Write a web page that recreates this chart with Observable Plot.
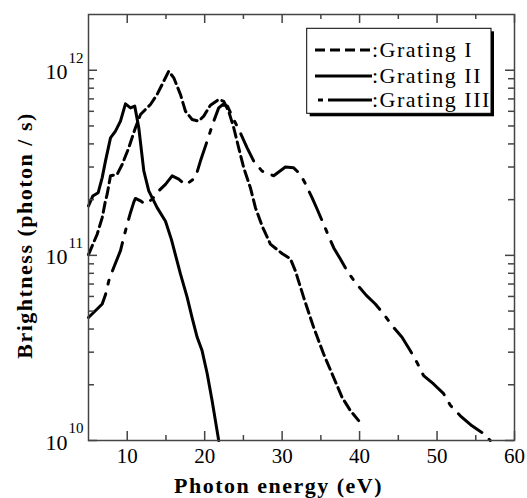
<!DOCTYPE html>
<html><head><meta charset="utf-8">
<script src="https://cdn.jsdelivr.net/npm/d3@7"></script>
<script src="https://cdn.jsdelivr.net/npm/@observablehq/plot@0.6"></script>
<style>body{margin:0;background:#fff} svg{display:block}</style>
</head><body><div id="chart"></div>
<script>
// ---- data ----
const xTicksMajor = [10, 20, 30, 40, 50, 60];
const xTicksMinor = [15, 25, 35, 45, 55];
const yTicksMajor = [1e10, 1e11, 1e12];
const yTickExponents = ["10", "11", "12"];
const yTicksMinor = [2e10,3e10,4e10,5e10,6e10,7e10,8e10,9e10,2e11,3e11,4e11,5e11,6e11,7e11,8e11,9e11];
const seriesNames = ["Grating I", "Grating II", "Grating III"];

const gratingI_x = [5.0,6.12,6.77,7.19,7.41,7.84,8.70,9.35,10.20,11.06,11.71,13.0,13.86,14.72,15.36,16.01,16.87,17.52,18.38,19.23,19.88,20.74,21.81,22.46,23.10,23.75,24.39,25.04,25.90,26.55,27.45,28.48,30.03,31.06,31.71,32.78,34.07,35.36,36.65,37.74,38.81,39.88];
const gratingI_y = [1.01e11,1.30e11,1.60e11,1.97e11,2.14e11,2.69e11,2.74e11,3.10e11,3.81e11,4.89e11,5.77e11,6.53e11,7.40e11,8.73e11,9.89e11,9.1e11,7.4e11,6.0e11,5.42e11,5.31e11,5.65e11,6.47e11,6.95e11,6.79e11,6.0e11,4.89e11,3.81e11,2.97e11,2.32e11,1.81e11,1.43e11,1.15e11,1.02e11,9.6e10,8.25e10,5.93e10,4.08e10,2.93e10,2.19e10,1.71e10,1.45e10,1.28e10];

const gratingII_x = [5.0,5.55,6.25,6.77,7.19,7.84,8.48,9.13,9.77,10.42,10.97,11.49,12.14,12.78,13.86,14.94,15.7,16.87,17.74,18.38,19.03,19.67,20.32,20.96,21.81];
const gratingII_y = [1.85e11,2.09e11,2.18e11,2.63e11,3.23e11,4.31e11,4.69e11,5.31e11,6.58e11,6.26e11,6.40e11,4.89e11,2.86e11,2.23e11,1.81e11,1.53e11,1.22e11,7.94e10,5.93e10,4.6e10,3.61e10,3.05e10,2.30e10,1.64e10,1.0e10];

const gratingIII_x = [5.0,6.12,6.77,7.19,7.62,8.26,9.13,9.55,9.99,10.42,10.85,11.06,11.71,12.35,13.22,14.07,14.94,15.80,16.65,17.52,18.81,19.45,20.10,20.74,21.17,21.81,22.35,22.94,23.75,24.61,25.48,26.33,27.41,28.91,30.42,31.49,32.35,33.0,33.86,34.51,35.36,36.01,36.65,37.52,38.38,39.45,40.87,42.03,43.10,44.39,45.48,46.55,47.41,48.26,49.55,50.85,51.71,53.0,54.51,56.0,56.87];
const gratingIII_y = [4.62e10,5.13e10,5.46e10,6.12e10,7.29e10,8.60e10,1.06e11,1.25e11,1.47e11,1.70e11,1.94e11,2.03e11,1.97e11,1.89e11,2.01e11,2.23e11,2.42e11,2.69e11,2.58e11,2.40e11,2.63e11,3.23e11,3.89e11,4.69e11,5.31e11,6.26e11,6.53e11,6.40e11,5.42e11,4.59e11,3.81e11,3.23e11,2.85e11,2.69e11,3.00e11,2.97e11,2.74e11,2.44e11,2.05e11,1.78e11,1.47e11,1.27e11,1.10e11,9.55e10,8.25e10,7.13e10,6.08e10,5.46e10,4.82e10,4.08e10,3.61e10,3.05e10,2.64e10,2.24e10,2.02e10,1.79e10,1.55e10,1.36e10,1.20e10,1.09e10,1.0e10];

// ---- layout ----
const W = 527, H = 498, mL = 88, mR = 13, mT = 14, mB = 58;
const fw = W - mL - mR, fh = H - mT - mB;
const serif = "'Liberation Serif', 'Times New Roman', serif";
const axisColor = "#444";
const dashI = "10,5", dashIII = "30,10,4,10";
const toRows = (xs, ys) => xs.map((x, i) => ({x, y: ys[i]}));

const plot = Plot.plot({
  width: W, height: H,
  marginLeft: mL, marginRight: mR, marginTop: mT, marginBottom: mB,
  style: {fontFamily: serif, background: "white", color: "black", overflow: "visible"},
  x: {domain: [5, 60], axis: null},
  y: {type: "log", domain: [1e10, 2e12], axis: null},
  marks: [
    Plot.line(toRows(gratingI_x, gratingI_y), {x: "x", y: "y", stroke: "black", strokeWidth: 3, strokeDasharray: dashI}),
    Plot.line(toRows(gratingII_x, gratingII_y), {x: "x", y: "y", stroke: "black", strokeWidth: 3}),
    Plot.line(toRows(gratingIII_x, gratingIII_y), {x: "x", y: "y", stroke: "black", strokeWidth: 3, strokeDasharray: dashIII}),
    Plot.frame({stroke: axisColor, strokeWidth: 1.5}),
    Plot.tickX(xTicksMajor, {x: d => d, insetTop: fh - 9, stroke: axisColor, strokeWidth: 1.5}),
    Plot.tickX(xTicksMajor, {x: d => d, insetBottom: fh - 9, stroke: axisColor, strokeWidth: 1.5}),
    Plot.tickX(xTicksMinor, {x: d => d, insetTop: fh - 5, stroke: axisColor, strokeWidth: 1.5}),
    Plot.tickX(xTicksMinor, {x: d => d, insetBottom: fh - 5, stroke: axisColor, strokeWidth: 1.5}),
    Plot.tickY(yTicksMajor, {y: d => d, insetRight: fw - 9, stroke: axisColor, strokeWidth: 1.5}),
    Plot.tickY(yTicksMajor, {y: d => d, insetLeft: fw - 9, stroke: axisColor, strokeWidth: 1.5}),
    Plot.tickY(yTicksMinor, {y: d => d, insetRight: fw - 6, stroke: axisColor, strokeWidth: 1.5}),
    Plot.tickY(yTicksMinor, {y: d => d, insetLeft: fw - 6, stroke: axisColor, strokeWidth: 1.5}),
    Plot.text(xTicksMajor, {x: d => d, frameAnchor: "bottom", lineAnchor: "middle", dy: 16, text: d => String(d), fontSize: 21, fill: "black"}),
    Plot.text(yTicksMajor, {y: d => d, frameAnchor: "left", lineAnchor: "middle", dx: -21, dy: 2, textAnchor: "end", text: () => "10", fontSize: 22, fill: "black"}),
    Plot.text(yTicksMajor, {y: d => d, frameAnchor: "left", lineAnchor: "middle", dx: -20, dy: -12, textAnchor: "start", text: (d, i) => yTickExponents[i], fontSize: 15, fill: "black"}),
    Plot.text(["Photon energy (eV)"], {frameAnchor: "bottom", lineAnchor: "middle", textAnchor: "middle", dx: -23, dy: 45, text: d => d, fontWeight: "bold", fontSize: 22, fill: "black"}),
    Plot.text(["Brightness (photon / s)"], {frameAnchor: "left", lineAnchor: "middle", textAnchor: "middle", rotate: -90, dx: -64, dy: 8, text: d => d, fontWeight: "bold", fontSize: 22, fill: "black"})
  ]
});

const svg = d3.select(plot);
svg.selectAll("text").filter(function() {
  const t = this.textContent;
  return t.startsWith("Photon") || t.startsWith("Brightness");
}).attr("letter-spacing", 1.5);

// ---- legend ----
const lg = svg.append("g").attr("font-family", serif).attr("text-anchor", "start");
const bx = 306.7, by = 28.3, bw = 184.3, bh = 85;
lg.append("rect").attr("x", bx + 3).attr("y", by + 3).attr("width", bw).attr("height", bh).attr("fill", "black");
lg.append("rect").attr("x", bx).attr("y", by).attr("width", bw).attr("height", bh).attr("fill", "white").attr("stroke", "black").attr("stroke-width", 1);
const rows = [
  {name: seriesNames[0], dash: dashI, x0: 315, ly: 50},
  {name: seriesNames[1], dash: null, x0: 315, ly: 76},
  {name: seriesNames[2], dash: "5,5,45", x0: 318, ly: 100}
];
rows.forEach(r => {
  const ln = lg.append("line").attr("x1", r.x0).attr("x2", 372).attr("y1", r.ly).attr("y2", r.ly)
    .attr("stroke", "black").attr("stroke-width", 3);
  if (r.dash) ln.attr("stroke-dasharray", r.dash);
  lg.append("text").attr("x", 372).attr("y", r.ly + 7).attr("font-size", 22).attr("letter-spacing", 1.5)
    .attr("text-anchor", "start").attr("fill", "black").text(":" + r.name);
});

document.getElementById("chart").appendChild(plot);
</script>
</body></html>
